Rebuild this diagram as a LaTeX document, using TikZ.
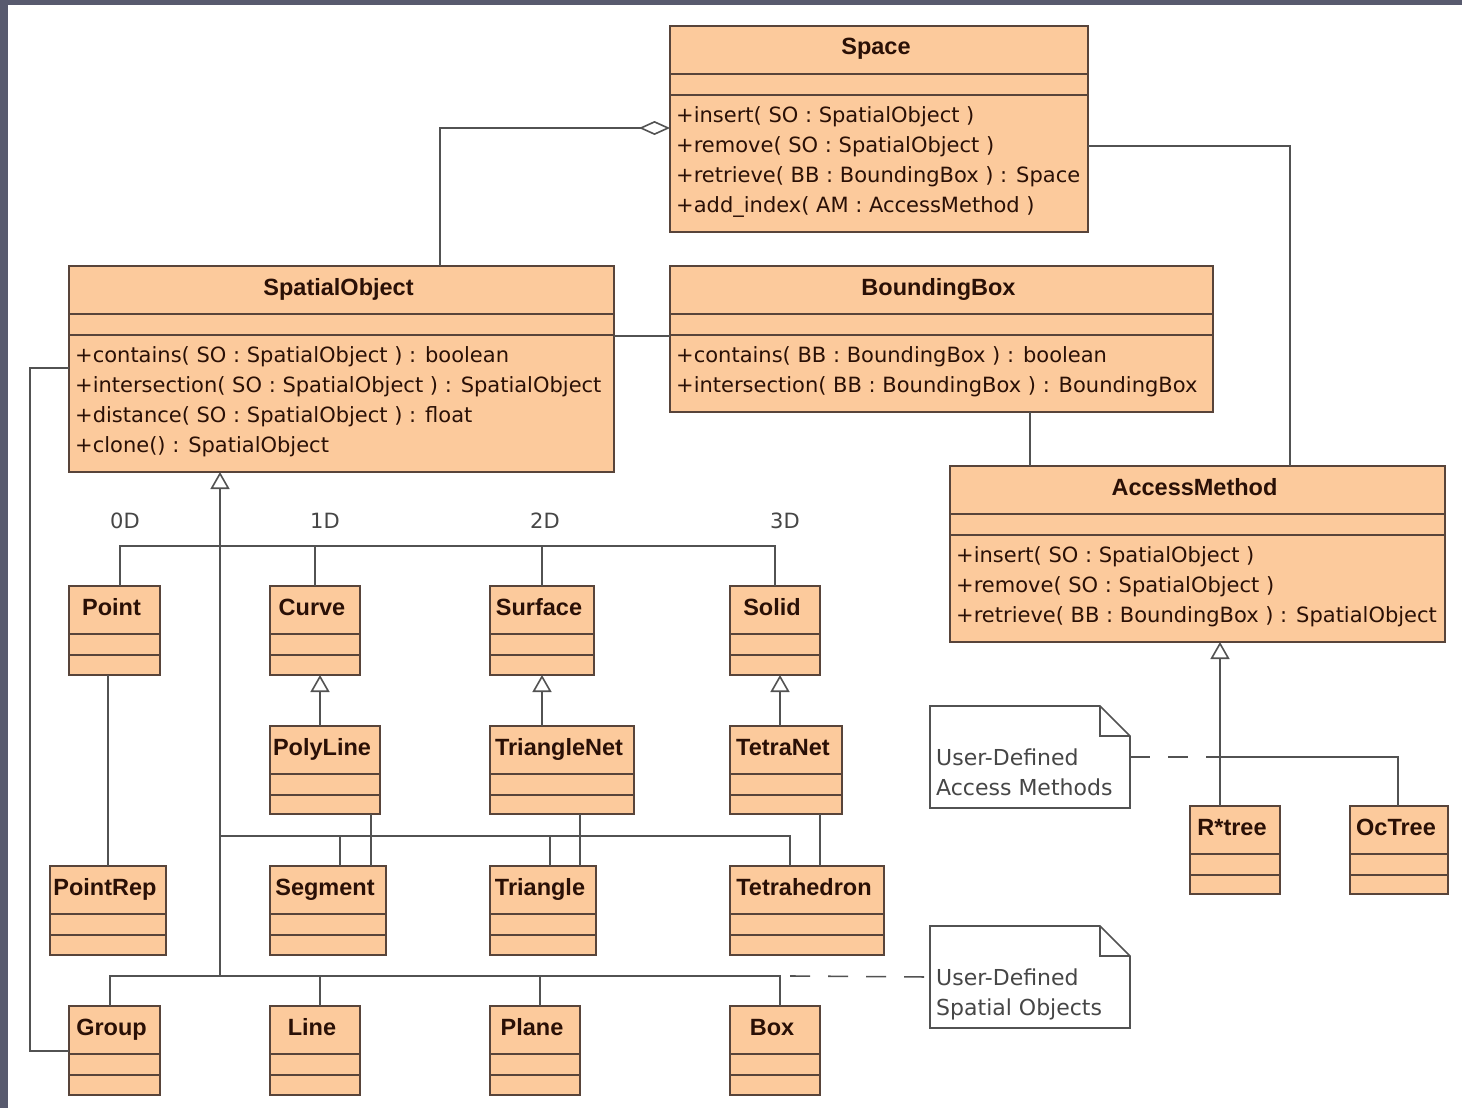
\documentclass[tikz,border=0pt]{standalone}
\usepackage{fontspec}
\setmainfont{DejaVu Sans}
\newfontfamily\namefont{Liberation Sans}
\usetikzlibrary{arrows.meta}

\definecolor{clsfill}{RGB}{252,202,156}
\definecolor{clsdraw}{RGB}{88,68,58}
\definecolor{clstext}{RGB}{42,16,6}
\definecolor{connline}{RGB}{82,82,82}
\definecolor{notetext}{RGB}{70,70,70}
\definecolor{framecol}{RGB}{88,90,110}

% class box: name, x, y (top left, y downwards), width, height
\newcommand\umlbox[5]{%
  \node[cls,minimum width=#4pt,minimum height=#5pt] (#1) at (#2,#3) {};
  \draw[clsdraw,line width=1.6pt]
    ([yshift=-48pt]#1.north west) -- ([yshift=-48pt]#1.north east)
    ([yshift=-69pt]#1.north west) -- ([yshift=-69pt]#1.north east);}
% class title, centred in the name compartment
\newcommand\umltitle[2]{%
  \node[title] (#1-t) at ([xshift=-3pt,yshift=-29pt]#1.north) {#2};}
% operation line k (1..4) of a class
\newcommand\umlop[3]{%
  \node[op] (#1-op#2) at ([xshift=6pt,yshift=-66pt-30pt*#2]#1.north west) {#3};}
% note with folded corner
\newcommand\umlnote[5]{%
  \node[minimum width=#4pt,minimum height=#5pt,inner sep=0pt,outer sep=0pt,
        anchor=north west] (#1) at (#2,#3) {};
  \draw[notedraw,fill=white]
    (#1.north west) -- ([xshift=-30pt]#1.north east)
    -- ([yshift=-30pt]#1.north east) -- (#1.south east)
    -- (#1.south west) -- cycle;
  \draw[notedraw] ([xshift=-30pt]#1.north east) |- ([yshift=-30pt]#1.north east);}

\tikzset{
  cls/.style={draw=clsdraw,fill=clsfill,line width=1.6pt,inner sep=0pt,
              outer sep=0pt,anchor=north west},
  title/.style={anchor=base,inner sep=0pt,text=clstext,
                font=\namefont\bfseries\fontsize{23.5}{26}\selectfont},
  op/.style={anchor=base west,inner sep=0pt,text=clstext,
             font=\fontsize{21}{24}\selectfont},
  conn/.style={draw=connline,line width=1.6pt},
  gen/.style={conn,-{Triangle[open,length=17pt,width=19pt,line width=1.6pt]}},
  agg/.style={conn,-{Diamond[open,length=31pt,width=14pt,line width=1.6pt]}},
  notelink/.style={conn,dash pattern=on 20pt off 18pt},
  notedraw/.style={draw=connline,line width=1.6pt},
  notetxt/.style={anchor=base west,inner sep=0pt,text=notetext,
                  font=\fontsize{22}{26}\selectfont},
  dimlabel/.style={inner sep=0pt,text=notetext,font=\fontsize{21}{24}\selectfont},
}

\begin{document}
\begin{tikzpicture}[x=1pt,y=-1pt]
% page and frame
\fill[white] (0,0) rectangle (1462,1108);
\useasboundingbox (0,0) rectangle (1462,1108);
\fill[framecol] (0,0) rectangle (8,1108);
\fill[framecol] (0,0) rectangle (1462,5);

% ---------- main classes ----------
\umlbox{space}{670}{26}{418}{206}
\umltitle{space}{Space}
\umlop{space}{1}{+insert( SO : SpatialObject )}
\umlop{space}{2}{+remove( SO : SpatialObject )}
\umlop{space}{3}{+retrieve( BB : BoundingBox ) : Space}
\umlop{space}{4}{+add\_index( AM : AccessMethod )}

\umlbox{spatial}{69}{266}{545}{206}
\umltitle{spatial}{SpatialObject}
\umlop{spatial}{1}{+contains( SO : SpatialObject ) : boolean}
\umlop{spatial}{2}{+intersection( SO : SpatialObject ) : SpatialObject}
\umlop{spatial}{3}{+distance( SO : SpatialObject ) : float}
\umlop{spatial}{4}{+clone() : SpatialObject}

\umlbox{bbox}{670}{266}{543}{146}
\umltitle{bbox}{BoundingBox}
\umlop{bbox}{1}{+contains( BB : BoundingBox ) : boolean}
\umlop{bbox}{2}{+intersection( BB : BoundingBox ) : BoundingBox}

\umlbox{access}{950}{466}{495}{176}
\umltitle{access}{AccessMethod}
\umlop{access}{1}{+insert( SO : SpatialObject )}
\umlop{access}{2}{+remove( SO : SpatialObject )}
\umlop{access}{3}{+retrieve( BB : BoundingBox ) : SpatialObject}

% ---------- geometry classes ----------
\umlbox{point}{69}{586}{91}{89}      \umltitle{point}{Point}
\umlbox{curve}{270}{586}{90}{89}     \umltitle{curve}{Curve}
\umlbox{surface}{490}{586}{104}{89}  \umltitle{surface}{Surface}
\umlbox{solid}{730}{586}{90}{89}     \umltitle{solid}{Solid}

\umlbox{polyline}{270}{726}{110}{88}    \umltitle{polyline}{PolyLine}
\umlbox{trinet}{490}{726}{144}{88}      \umltitle{trinet}{TriangleNet}
\umlbox{tetranet}{730}{726}{112}{88}    \umltitle{tetranet}{TetraNet}

\umlbox{pointrep}{50}{866}{116}{89}     \umltitle{pointrep}{PointRep}
\umlbox{segment}{270}{866}{116}{89}     \umltitle{segment}{Segment}
\umlbox{triangle}{490}{866}{106}{89}    \umltitle{triangle}{Triangle}
\umlbox{tetra}{730}{866}{154}{89}       \umltitle{tetra}{Tetrahedron}

\umlbox{group}{69}{1006}{91}{89}     \umltitle{group}{Group}
\umlbox{lineobj}{270}{1006}{90}{89}  \umltitle{lineobj}{Line}
\umlbox{plane}{490}{1006}{90}{89}    \umltitle{plane}{Plane}
\umlbox{boxobj}{730}{1006}{90}{89}   \umltitle{boxobj}{Box}

\umlbox{rtree}{1190}{806}{90}{88}    \umltitle{rtree}{R*tree}
\umlbox{octree}{1350}{806}{98}{88}   \umltitle{octree}{OcTree}

% ---------- notes ----------
\umlnote{noteam}{930}{706}{200}{102}
\node[notetxt] (noteam-l1) at ([xshift=6pt,yshift=-59pt]noteam.north west) {User-Defined};
\node[notetxt] (noteam-l2) at ([xshift=6pt,yshift=-89pt]noteam.north west) {Access Methods};
\umlnote{noteso}{930}{926}{200}{102}
\node[notetxt] (noteso-l1) at ([xshift=6pt,yshift=-59pt]noteso.north west) {User-Defined};
\node[notetxt] (noteso-l2) at ([xshift=6pt,yshift=-89pt]noteso.north west) {Spatial Objects};

% ---------- dimension labels ----------
\node[dimlabel] (lab0) at (125,521) {0D};
\node[dimlabel] (lab1) at (325,521) {1D};
\node[dimlabel] (lab2) at (545,521) {2D};
\node[dimlabel] (lab3) at (785,521) {3D};

% ---------- associations ----------
\draw[agg] ([xshift=371pt]spatial.north west) |- ([yshift=-102pt]space.north west);
\draw[conn] ([yshift=-120pt]space.north east) -| ([xshift=340pt]access.north west);
\draw[conn] ([yshift=-70pt]spatial.north east) -- ([yshift=-70pt]bbox.north west);
\draw[conn] ([xshift=360pt]bbox.south west) -- ([xshift=80pt]access.north west);
\draw[conn] ([yshift=-102pt]spatial.north west) -- ++(-39pt,0)
            |- ([yshift=-45pt]group.north west);

% ---------- generalization tree of SpatialObject ----------
\coordinate (dimbus) at (220,546);
\coordinate (objbus) at (220,836);
\coordinate (basebus) at (220,976);
\draw[gen] (basebus) -- ([xshift=151pt]spatial.south west);
% dimension branch
\draw[conn] ([xshift=51pt]point.north west) |- (solid.north |- dimbus) -- (solid.north);
\draw[conn] (curve.north) -- (curve.north |- dimbus);
\draw[conn] (surface.north) -- (surface.north |- dimbus);
% simplex branch
\draw[conn] (objbus) -| ([xshift=60pt]tetra.north west);
\draw[conn] ([xshift=70pt]segment.north west) -- ([xshift=70pt]segment.north west |- objbus);
\draw[conn] ([xshift=60pt]triangle.north west) -- ([xshift=60pt]triangle.north west |- objbus);
% base branch
\draw[conn] ([xshift=41pt]group.north west) |- ([xshift=50pt]boxobj.north west |- basebus)
            -- ([xshift=50pt]boxobj.north west);
\draw[conn] ([xshift=50pt]lineobj.north west) -- ([xshift=50pt]lineobj.north west |- basebus);
\draw[conn] ([xshift=50pt]plane.north west) -- ([xshift=50pt]plane.north west |- basebus);
\draw[notelink] ([xshift=50pt]boxobj.north west |- basebus) ++(10pt,0) -- (noteso.west);

% specialisations of the dimension classes
\draw[gen] ([xshift=50pt]polyline.north west) -- ([xshift=50pt]curve.south west);
\draw[gen] ([xshift=52pt]trinet.north west) -- ([xshift=52pt]surface.south west);
\draw[gen] ([xshift=50pt]tetranet.north west) -- ([xshift=50pt]solid.south west);

% representations
\draw[conn] ([xshift=39pt]point.south west) -- ([xshift=58pt]pointrep.north west);
\draw[conn] ([xshift=101pt]polyline.south west) -- ([xshift=101pt]segment.north west);
\draw[conn] ([xshift=90pt]trinet.south west) -- ([xshift=90pt]triangle.north west);
\draw[conn] ([xshift=90pt]tetranet.south west) -- ([xshift=90pt]tetra.north west);

% ---------- access method tree ----------
\draw[gen] ([xshift=30pt]rtree.north west) -- ([xshift=270pt]access.south west);
\draw[conn] ([xshift=30pt]rtree.north west |- noteam.east) -| ([xshift=48pt]octree.north west);
\draw[notelink] (noteam.east) -- ([xshift=30pt]rtree.north west |- noteam.east);
\end{tikzpicture}
\end{document}
